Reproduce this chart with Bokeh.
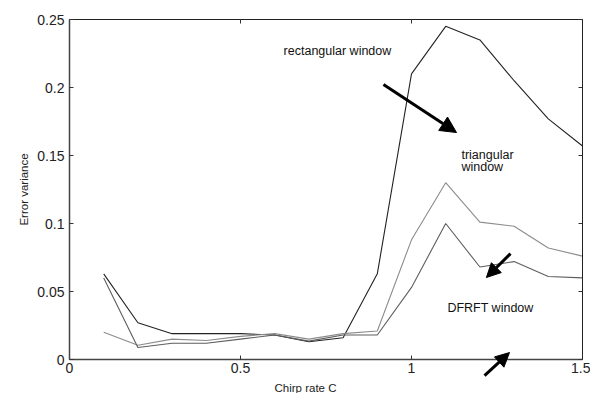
from bokeh.plotting import figure
from bokeh.models import Range1d, FixedTicker, LinearAxis, Label, Arrow, NormalHead
from bokeh.embed import file_html
from bokeh.resources import INLINE

chirp_rate = [0.1, 0.2, 0.3, 0.4, 0.5, 0.6, 0.7, 0.8, 0.9, 1.0, 1.1, 1.2, 1.3, 1.4, 1.5]
rect_err = [0.063, 0.027, 0.019, 0.019, 0.019, 0.018, 0.013, 0.016, 0.063, 0.210, 0.245, 0.235, 0.205, 0.177, 0.157]
tri_err = [0.020, 0.0105, 0.015, 0.014, 0.017, 0.019, 0.015, 0.019, 0.021, 0.088, 0.130, 0.101, 0.098, 0.082, 0.076]
dfrft_err = [0.060, 0.0088, 0.012, 0.012, 0.015, 0.018, 0.0135, 0.018, 0.018, 0.053, 0.100, 0.068, 0.072, 0.061, 0.060]

x_ticks = [0, 0.5, 1, 1.5]
x_tick_labels = ["0", "0.5", "1", "1.5"]
y_ticks = [0, 0.05, 0.1, 0.15, 0.2, 0.25]
y_tick_labels = ["0", "0.05", "0.1", "0.15", "0.2", "0.25"]

X_MIN, X_MAX = 0.0, 1.5
Y_MIN, Y_MAX = 0.0, 0.25

FONT = "Liberation Sans"

# The frame covers the whole figure; the four axes are pinned at the data box
# edges, so that the lower arrow can run past the x axis without being clipped.
p = figure(width=590, height=393,
           x_range=Range1d(-0.2018, 1.5234), y_range=Range1d(-0.025, 0.264),
           output_backend="svg", toolbar_location=None,
           min_border=0, min_border_left=0, min_border_right=0,
           min_border_top=0, min_border_bottom=0)
p.xgrid.visible = False
p.ygrid.visible = False
p.outline_line_color = None
p.background_fill_color = "white"
p.border_fill_color = "white"

def style_axis(ax, ticks, labels, show_labels=True):
    ax.ticker = FixedTicker(ticks=ticks)
    ax.major_label_overrides = {t: l for t, l in zip(ticks, labels)}
    ax.minor_tick_line_color = None
    ax.major_tick_in = 4
    ax.major_tick_out = 0
    ax.major_tick_line_color = "#333333"
    ax.axis_line_color = "#444444"
    ax.axis_line_width = 1.5
    ax.major_label_text_font = FONT
    ax.major_label_text_color = "#222222"
    if show_labels:
        ax.major_label_text_font_size = "14px"
    else:
        ax.major_label_text_font_size = "1px"
        ax.major_label_text_color = None
        ax.major_label_standoff = 0

xax = p.xaxis[0]
yax = p.yaxis[0]
style_axis(xax, x_ticks, x_tick_labels)
style_axis(yax, y_ticks, y_tick_labels)
xax.fixed_location = Y_MIN
xax.bounds = (X_MIN, X_MAX)
yax.fixed_location = X_MIN
yax.bounds = (Y_MIN, Y_MAX)
xax.major_label_standoff = 3
yax.major_label_standoff = 5
yax.axis_label = "Error variance"
yax.axis_label_text_font = FONT
yax.axis_label_text_font_size = "11.5px"
yax.axis_label_text_font_style = "normal"
yax.axis_label_text_color = "#222222"
yax.axis_label_standoff = 4

top_ax = LinearAxis()
right_ax = LinearAxis()
style_axis(top_ax, x_ticks, x_tick_labels, show_labels=False)
style_axis(right_ax, y_ticks, y_tick_labels, show_labels=False)
top_ax.fixed_location = Y_MAX
top_ax.bounds = (X_MIN, X_MAX)
right_ax.fixed_location = X_MAX
right_ax.bounds = (Y_MIN, Y_MAX)
top_ax.axis_line_color = "#222222"
top_ax.axis_line_width = 1
right_ax.axis_line_color = "#222222"
right_ax.axis_line_width = 1
p.add_layout(top_ax, "above")
p.add_layout(right_ax, "right")

p.line(chirp_rate, rect_err, line_color="#222222", line_width=1.1)
p.line(chirp_rate, tri_err, line_color="#8c8c8c", line_width=1.1)
p.line(chirp_rate, dfrft_err, line_color="#5e5e5e", line_width=1.1)

# x axis title
p.add_layout(Label(x=0.69, y=-0.0213, text="Chirp rate C", text_font=FONT,
                   text_font_size="11.5px", text_color="#222222",
                   text_baseline="middle", text_align="center"))

def add_label(text, x, y):
    p.add_layout(Label(x=x, y=y, text=text, text_font=FONT, text_font_size="12.5px",
                       text_color="#111111", text_baseline="middle", text_align="left"))

add_label("rectangular window", 0.626, 0.2265)
add_label("triangular", 1.146, 0.1507)
add_label("window", 1.146, 0.1412)
add_label("DFRFT window", 1.105, 0.0382)

def add_arrow(x0, y0, x1, y1, size):
    p.add_layout(Arrow(end=NormalHead(size=size, fill_color="black", line_color="black"),
                       x_start=x0, y_start=y0, x_end=x1, y_end=y1,
                       line_width=3, line_color="black"))

add_arrow(0.918, 0.2022, 1.1316, 0.1669, 16)
add_arrow(1.2895, 0.0779, 1.219, 0.0603, 14)
add_arrow(1.2135, -0.0118, 1.2865, 0.0051, 14)

open("out.html", "w").write(file_html(p, INLINE))
